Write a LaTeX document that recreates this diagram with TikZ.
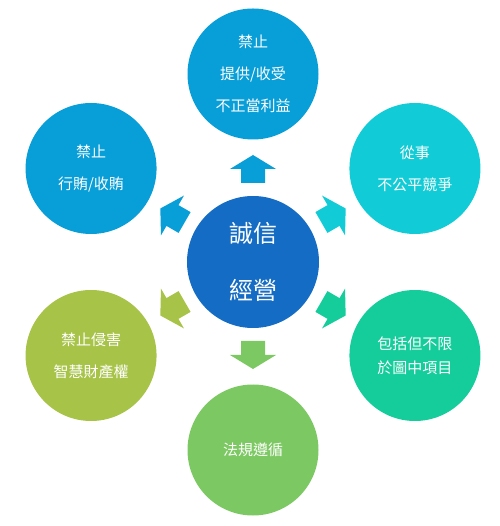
\documentclass[tikz,border=0pt]{standalone}
\usepackage{fontspec}
\setmainfont{Noto Sans CJK TC}
\definecolor{coreblue}{RGB}{20,108,196}
\definecolor{skyblue}{RGB}{8,158,216}
\definecolor{aquacyan}{RGB}{17,204,214}
\definecolor{seateal}{RGB}{21,205,155}
\definecolor{leafgreen}{RGB}{124,200,98}
\definecolor{olivegreen}{RGB}{167,195,72}

\begin{document}
\begin{tikzpicture}[x=1pt,y=1pt,
  bubble/.style={circle,minimum size=131pt,inner sep=0pt,text=white,align=center,font=\fontsize{15}{32}\selectfont},
  corebubble/.style={bubble,minimum size=132pt,font=\fontsize{24}{57}\selectfont}]
\useasboundingbox (-253,-264) rectangle (246,262);

% centre
\node [corebubble,fill=coreblue] (core) at (0,0) {誠信\\經營};

% outer circles
\node [bubble,fill=skyblue] (gift) at (90:188) {禁止\\提供/收受\\不正當利益};
\node [bubble,fill=aquacyan] (compete) at (30:187) {從事\\不公平競爭};
\node [bubble,fill=seateal,font=\fontsize{15}{24}\selectfont] (other) at (-30:187) {包括但不限\\於圖中項目};
\node [bubble,fill=leafgreen] (law) at (-90:188) {法規遵循};
\node [bubble,fill=olivegreen] (ip) at (-150:187) {禁止侵害\\智慧財產權};
\node [bubble,fill=skyblue] (bribe) at (150:187) {禁止\\行賄/收賄};

% block arrows
\foreach \ang/\col in {90/skyblue,30/aquacyan,-30/seateal,-90/leafgreen,-150/olivegreen,150/skyblue}
  \fill [\col,rotate=\ang] (79,-12) -- (93,-12) -- (93,-23) -- (107,0) -- (93,23) -- (93,12) -- (79,12) -- cycle;

\end{tikzpicture}
\end{document}
